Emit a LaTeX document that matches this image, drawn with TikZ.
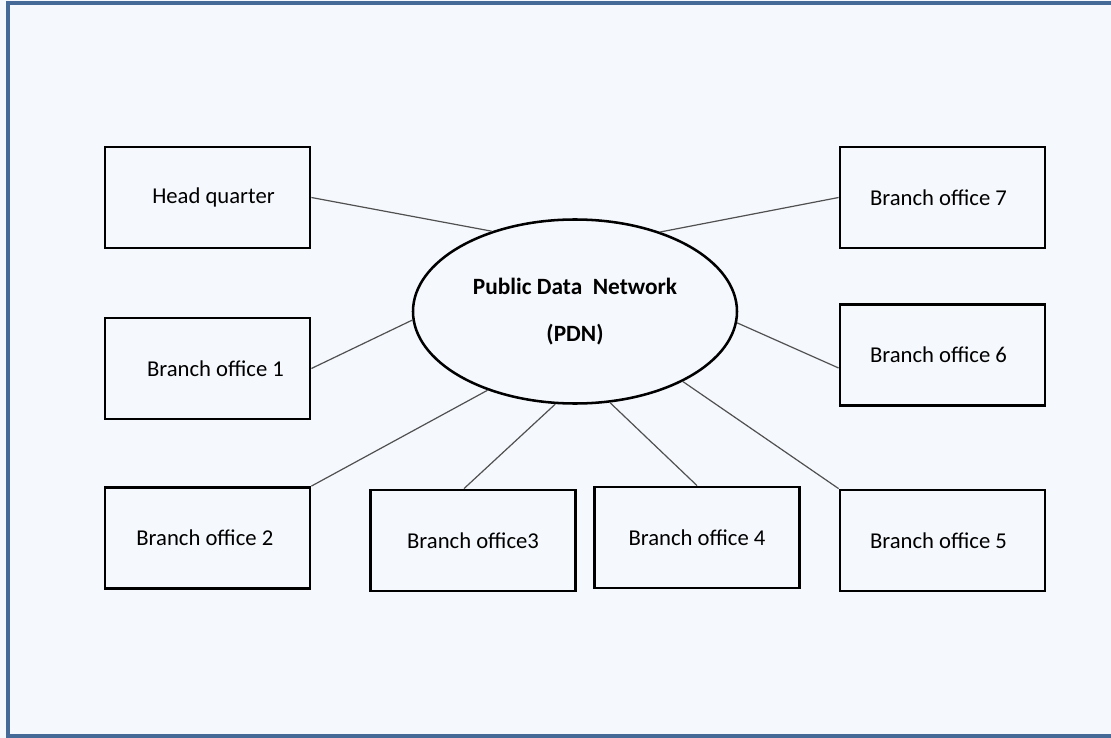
\documentclass[tikz,border=0pt]{standalone}
\usepackage{fontspec}
\setmainfont{Carlito}
\usepackage{tikz}
\usetikzlibrary{shapes,arrows}
\usetikzlibrary{shapes.geometric}

\definecolor{framecol}{RGB}{70,106,152}
\definecolor{paper}{RGB}{245,248,252}
\definecolor{wire}{RGB}{80,80,80}

\tikzset{
    office/.style={draw=black, line width=2.1pt, minimum width=153.75pt, minimum height=75.75pt, inner sep=0pt, font=\fontsize{17}{20}\selectfont},
    pdnnode/.style={ellipse, draw=black, line width=1.9pt, minimum width=243pt, minimum height=138pt, inner sep=0pt, align=center, font=\bfseries\fontsize{17.5}{35}\selectfont},
    link/.style={draw=wire, line width=0.9pt}
}

\begin{document}
\begin{tikzpicture}[x=0.75pt,y=0.75pt,yscale=-1,xscale=1]
    \useasboundingbox (0,0) rectangle (1111,738);
    
    %Shape: Background
    \fill [paper] (0,0) rectangle (1111,738);
    %Shape: Frame
    \draw [framecol, line width=2.3pt] (1120,3) -- (8,3) -- (8,736) -- (1120,736);
    
    %Shape: Ellipse
    \node [pdnnode] (pdn) at (575,311.5) {Public Data\ \ Network\\(PDN)};
    
    %Shape: Rectangles
    \node [office] (hq) at (207.5,197.5) {\hspace*{9pt}Head quarter};
    \node [office] (bo1) at (207.5,368.5) {\hspace*{12pt}Branch office 1};
    \node [office] (bo2) at (207.5,538) {Branch office 2\hspace*{4pt}};
    \node [office] (bo3) at (473,540.5) {Branch office3};
    \node [office] (bo4) at (697,537.5) {Branch office 4};
    \node [office] (bo5) at (942.5,540.5) {Branch office 5\hspace*{6pt}};
    \node [office] (bo6) at (942.5,355) {Branch office 6\hspace*{6pt}};
    \node [office] (bo7) at (942.5,197.5) {Branch office 7\hspace*{6pt}};
    
    %Straight Lines
    \draw [link] (hq.east) -- (pdn.136.8);
    \draw [link] (bo1.east) -- (pdn.183.2);
    \draw [link] (bo2.north east) -- (pdn.222.7);
    \draw [link] ([xshift=-6.75pt]bo3.north) -- (pdn.258.6);
    \draw [link] (bo4.north) -- (pdn.291.5);
    \draw [link] (bo5.north west) -- (pdn.327.8);
    \draw [link] ([yshift=9.75pt]bo6.west) -- (pdn.356.8);
    \draw [link] (bo7.west) -- (pdn.43.6);
    
\end{tikzpicture}
\end{document}
